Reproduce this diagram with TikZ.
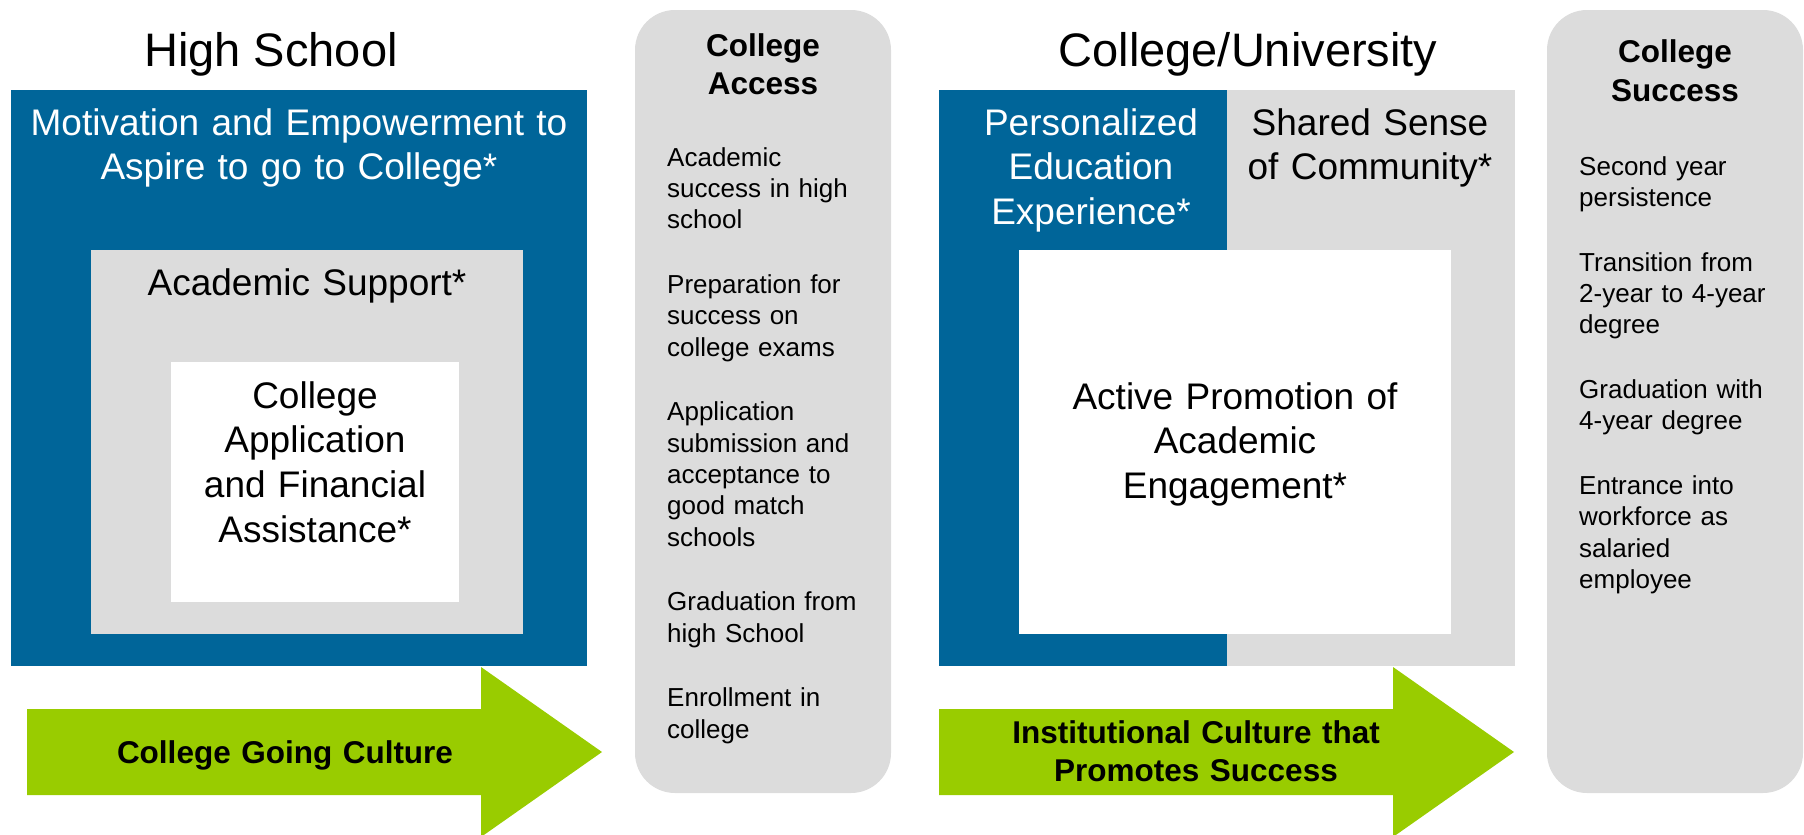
\documentclass[tikz,border=0pt]{standalone}
\usepackage{fontspec}
\setmainfont{Liberation Sans}
\definecolor{deepblue}{RGB}{0,101,153}
\definecolor{panelgray}{RGB}{220,220,220}
\definecolor{limegreen}{RGB}{153,204,0}
\begin{document}
\begin{tikzpicture}[x=1pt,y=-1pt,
  title/.style={inner sep=0pt, anchor=base, font=\fontsize{47}{56}\selectfont},
  lbl/.style={inner sep=0pt, anchor=base, align=center, font=\fontsize{37}{44.8}\selectfont},
  arrowlbl/.style={inner sep=0pt, anchor=base, align=center, font=\fontsize{31.5}{38}\selectfont\bfseries},
  head/.style={inner sep=0pt, anchor=base, align=center, text width=240pt, font=\fontsize{31.5}{39}\selectfont\bfseries},
  listtxt/.style={inner sep=0pt, anchor=base west, align=left, text width=225pt, font=\fontsize{26}{31.3}\selectfont},
  outcome/.style={panelgray, rounded corners=40pt},
  culture/.style={limegreen}
]
\useasboundingbox (0,0) rectangle (1804,835);

% ---------- High school panel ----------
\fill[deepblue] (11,90) rectangle (587,666);
\fill[panelgray] (91,250) rectangle (523,634);
\fill[white] (171,362) rectangle (459,602);

\node[title] (hstitle) at (271,66) {High School};
\node[lbl, text=white, text width=570pt] (motiv) at (299,135)
  {Motivation and Empowerment to\\Aspire to go to College*};
\node[lbl, text width=420pt] (acsup) at (307,295) {Academic Support*};
\node[lbl, text width=280pt] (appfin) at (315,408)
  {College\\Application\\and Financial\\Assistance*};

% arrow: college going culture
\fill[culture] (27,709) -- (481,709) -- (481,667) -- (602,752)
  -- (481,837) -- (481,795) -- (27,795) -- cycle;
\node[arrowlbl, text width=440pt] (cgc) at (285,763) {College Going Culture};

% ---------- College access outcomes ----------
\fill[outcome] (635,10) rectangle (891,793);
\node[head] (acchead) at (763,56) {College\\Access};
\node[listtxt] (acclist) at (667,166)
  {Academic\\success in high\\school\\[33.5pt]
   Preparation for\\success on\\college exams\\[33.5pt]
   Application\\submission and\\acceptance to\\good match\\schools\\[33.5pt]
   Graduation from\\high School\\[33.5pt]
   Enrollment in\\college};

% ---------- College / university panel ----------
\fill[deepblue] (939,90) rectangle (1227,666);
\fill[panelgray] (1227,90) rectangle (1515,666);
\fill[white] (1019,250) rectangle (1451,634);

\node[title] (cutitle) at (1248,66) {College/University};
\node[lbl, text=white, text width=280pt] (pers) at (1091,135)
  {Personalized\\Education\\Experience*};
\node[lbl, text width=280pt] (comm) at (1370,135)
  {Shared Sense\\of Community*};
\node[lbl, text width=420pt] (active) at (1235,409)
  {Active Promotion of\\Academic\\Engagement*};

% arrow: institutional culture
\fill[culture] (939,709) -- (1393,709) -- (1393,667) -- (1514,752)
  -- (1393,837) -- (1393,795) -- (939,795) -- cycle;
\node[arrowlbl, text width=440pt] (icps) at (1196,743)
  {Institutional Culture that\\Promotes Success};

% ---------- College success outcomes ----------
\fill[outcome] (1547,10) rectangle (1803,793);
\node[head] (sucshead) at (1675,62) {College\\Success};
\node[listtxt] (sucslist) at (1579,175)
  {Second year\\persistence\\[33.5pt]
   Transition from\\2-year to 4-year\\degree\\[33.5pt]
   Graduation with\\4-year degree\\[33.5pt]
   Entrance into\\workforce as\\salaried\\employee};
\end{tikzpicture}
\end{document}
